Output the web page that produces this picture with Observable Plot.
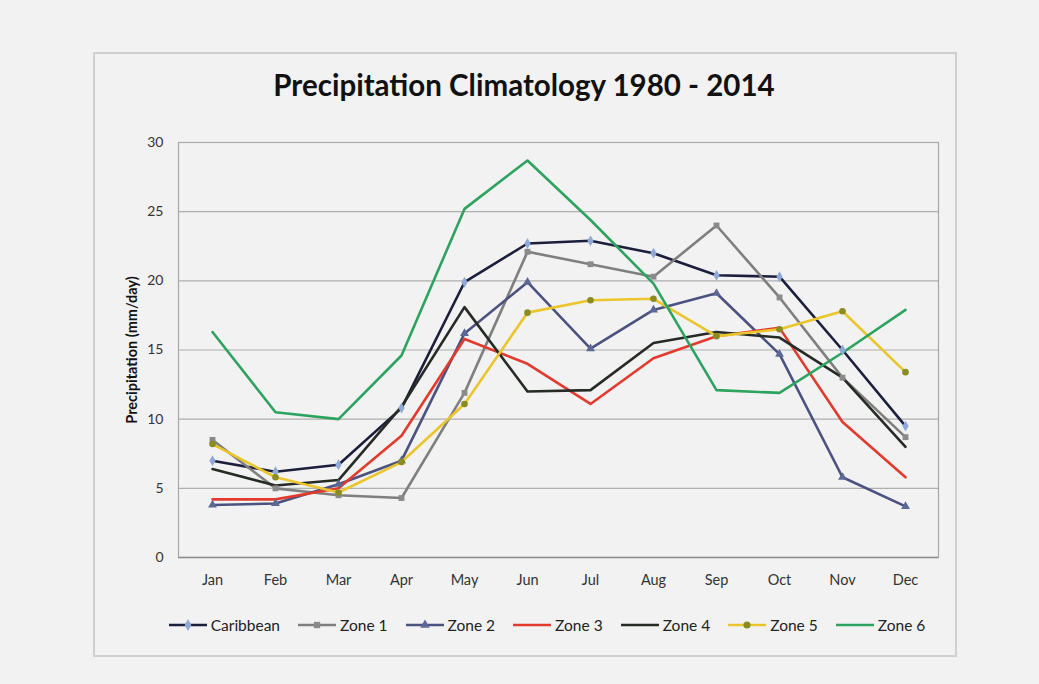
<!DOCTYPE html>
<html>
<head>
<meta charset="utf-8">
<script src="https://cdn.jsdelivr.net/npm/d3@7"></script>
<script src="https://cdn.jsdelivr.net/npm/@observablehq/plot@0.6"></script>
<style>
  html, body { margin: 0; padding: 0; background: #f2f2f2; }
  body { width: 1039px; height: 684px; position: relative; overflow: hidden; font-family: Lato, "Open Sans", sans-serif; }
  #panel { position: absolute; left: 93px; top: 52px; width: 860px; height: 601px; border: 2px solid #cfcfcf; background: #f2f2f2; }
  #title { position: absolute; left: 0; width: 1048px; top: 67px; text-align: center; font-weight: bold; font-size: 29.5px; color: #111; }
  #chart { position: absolute; left: 0; top: 0; }
  #legend { position: absolute; top: 616px; left: 0; width: 1093px; display: flex; justify-content: center; gap: 17px; font-size: 15.5px; color: #222; }
  #legend .item { display: flex; align-items: center; gap: 3px; }
</style>
</head>
<body>
<div id="panel"></div>
<div id="title">Precipitation Climatology 1980 - 2014</div>
<div id="chart"></div>
<div id="legend"></div>
<script>
const months = ["Jan","Feb","Mar","Apr","May","Jun","Jul","Aug","Sep","Oct","Nov","Dec"];
const seriesNames = ["Caribbean","Zone 1","Zone 2","Zone 3","Zone 4","Zone 5","Zone 6"];
const caribbean = [7.0, 6.2, 6.7, 10.8, 19.9, 22.7, 22.9, 22.0, 20.4, 20.3, 15.0, 9.5];
const zone1     = [8.5, 5.0, 4.5, 4.3, 11.9, 22.1, 21.2, 20.3, 24.0, 18.8, 13.0, 8.7];
const zone2     = [3.8, 3.9, 5.3, 7.0, 16.2, 19.9, 15.1, 17.9, 19.1, 14.7, 5.8, 3.7];
const zone3     = [4.2, 4.2, 5.0, 8.8, 15.8, 14.0, 11.1, 14.4, 16.0, 16.6, 9.8, 5.8];
const zone4     = [6.4, 5.2, 5.6, 10.9, 18.1, 12.0, 12.1, 15.5, 16.3, 15.9, 13.0, 8.0];
const zone5     = [8.2, 5.8, 4.7, 6.9, 11.1, 17.7, 18.6, 18.7, 16.0, 16.5, 17.8, 13.4];
const zone6     = [16.3, 10.5, 10.0, 14.6, 25.2, 28.7, 24.4, 19.8, 12.1, 11.9, 14.8, 17.9];
const yTicks = [0, 5, 10, 15, 20, 25, 30];

const seriesValues = [caribbean, zone1, zone2, zone3, zone4, zone5, zone6];
const lineColors   = ["#1c1f3c", "#7f7f7f", "#4b5280", "#e23a2c", "#262b26", "#eac52c", "#2ea35f"];
const markerFills  = ["#8ea8d8", "#8a8a8a", "#5c6896", null, null, "#8a8c22", null];
const markerSyms   = ["diamond", "square", "triangle", null, null, "circle", null];

const data = [];
seriesNames.forEach((s, i) => {
  seriesValues[i].forEach((v, j) => data.push({series: s, month: months[j], value: v}));
});

const marks = [
  Plot.gridY(yTicks.filter(d => d > 0), {stroke: "#9e9e9e", strokeOpacity: 0.8, strokeWidth: 1.2}),
  Plot.frame({stroke: "#a8a8a8", strokeWidth: 1.2}),
  Plot.ruleY([0], {stroke: "#8c8c8c", strokeWidth: 1.5}),
  Plot.axisY({ticks: yTicks, tickSize: 0, tickPadding: 15, label: "Precipitation (mm/day)", labelAnchor: "center", labelArrow: "none", labelOffset: 52, fontSize: 14, fill: "#333"}),
  Plot.axisX({tickSize: 0, tickPadding: 17, label: null, fontSize: 14.5, fill: "#333"})
];
seriesNames.forEach((s, i) => {
  const d = data.filter(r => r.series === s);
  marks.push(Plot.line(d, {x: "month", y: "value", stroke: lineColors[i], strokeWidth: 2.6, curve: "linear"}));
});
seriesNames.forEach((s, i) => {
  if (!markerSyms[i]) return;
  const d = data.filter(r => r.series === s);
  marks.push(Plot.dot(d, {x: "month", y: "value", symbol: markerSyms[i], fill: markerFills[i], r: 3.3}));
});

const chart = Plot.plot({
  width: 1039,
  height: 600,
  marginLeft: 178,
  marginRight: 101,
  marginTop: 142,
  marginBottom: 43,
  style: {background: "transparent", fontFamily: "Lato, 'Open Sans', sans-serif", fontSize: "14px", color: "#333"},
  x: {type: "point", domain: months, padding: 0.5},
  y: {domain: [0, 30]},
  marks
});
chart.querySelectorAll("g[aria-label='y-axis label'] text").forEach(t => {
  t.setAttribute("font-weight", "bold");
  t.setAttribute("font-size", "14.5");
  t.setAttribute("fill", "#111");
});
document.getElementById("chart").appendChild(chart);

const legend = document.getElementById("legend");
seriesNames.forEach((s, i) => {
  const item = document.createElement("div");
  item.className = "item";
  const svg = d3.create("svg").attr("width", 40).attr("height", 12);
  svg.append("line").attr("x1", 1).attr("x2", 39).attr("y1", 6).attr("y2", 6).attr("stroke", lineColors[i]).attr("stroke-width", 2.6);
  if (markerSyms[i]) {
    const sym = {diamond: d3.symbolDiamond, square: d3.symbolSquare, triangle: d3.symbolTriangle, circle: d3.symbolCircle}[markerSyms[i]];
    svg.append("path").attr("d", d3.symbol(sym, 40)()).attr("transform", "translate(20,6)").attr("fill", markerFills[i]);
  }
  item.appendChild(svg.node());
  const label = document.createElement("span");
  label.textContent = s;
  item.appendChild(label);
  legend.appendChild(item);
});
</script>
</body>
</html>
